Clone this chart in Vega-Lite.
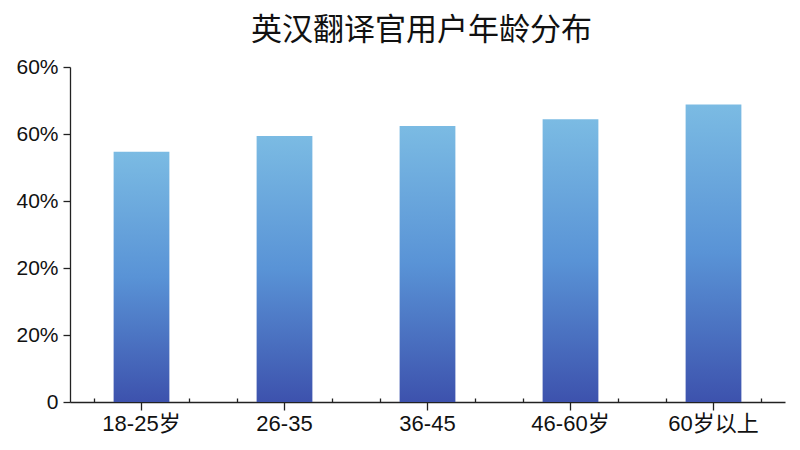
{
  "$schema": "https://vega.github.io/schema/vega-lite/v6.json",
  "autosize": "none",
  "width": 715,
  "height": 335,
  "padding": {"left": 70, "top": 67, "right": 15, "bottom": 48},
  "background": "white",
  "title": {
    "text": "英汉翻译官用户年龄分布",
    "anchor": "middle",
    "fontSize": 31,
    "font": "Noto Sans CJK SC",
    "fontWeight": "normal",
    "color": "#111111",
    "baseline": "alphabetic",
    "offset": -15,
    "dx": -6
  },
  "config": {
    "view": {"stroke": null},
    "font": "Liberation Sans, Noto Sans CJK SC",
    "axis": {
      "labelFont": "Liberation Sans, Noto Sans CJK SC",
      "labelColor": "#111111",
      "domainColor": "#222222",
      "tickColor": "#222222",
      "domainWidth": 1.3,
      "tickWidth": 1.3,
      "grid": false,
      "title": null
    }
  },
  "layer": [
    {
      "data": {
        "values": [
          {"age": "18-25岁", "share": 74.7},
          {"age": "26-35", "share": 79.4},
          {"age": "36-45", "share": 82.4},
          {"age": "46-60岁", "share": 84.4},
          {"age": "60岁以上", "share": 88.8}
        ]
      },
      "mark": {
        "type": "bar",
        "color": {
          "gradient": "linear",
          "x1": 0, "y1": 0, "x2": 0, "y2": 1,
          "stops": [
            {"offset": 0, "color": "#7bbbe3"},
            {"offset": 0.5, "color": "#5993d6"},
            {"offset": 1, "color": "#3d52ad"}
          ]
        }
      },
      "encoding": {
        "x": {
          "field": "age",
          "type": "nominal",
          "sort": null,
          "scale": {"paddingInner": 0.61, "paddingOuter": 0.305},
          "axis": {"labelAngle": 0, "tickSize": 8, "labelPadding": 3, "labelFontSize": 22}
        },
        "y": {
          "field": "share",
          "type": "quantitative",
          "scale": {"domain": [0, 100], "nice": false},
          "axis": {
            "values": [0, 20, 40, 60, 80, 100],
            "tickSize": 7,
            "labelPadding": 5,
            "labelFontSize": 21,
            "labelExpr": "datum.value == 0 ? '0' : datum.value == 20 ? '20%' : datum.value == 40 ? '20%' : datum.value == 60 ? '40%' : '60%'"
          }
        }
      }
    },
    {
      "data": {"values": [{"t": 0}, {"t": 15}]},
      "mark": {"type": "rule", "opacity": 0},
      "encoding": {
        "x": {
          "field": "t",
          "type": "quantitative",
          "scale": {"domain": [0, 15], "nice": false, "zero": false},
          "axis": {
            "orient": "bottom",
            "values": [0.5, 2.5, 3.5, 5.5, 6.5, 8.5, 9.5, 11.5, 12.5, 14.5],
            "labels": false,
            "domain": false,
            "tickSize": -4
          }
        }
      }
    }
  ],
  "resolve": {"scale": {"x": "independent"}}
}
